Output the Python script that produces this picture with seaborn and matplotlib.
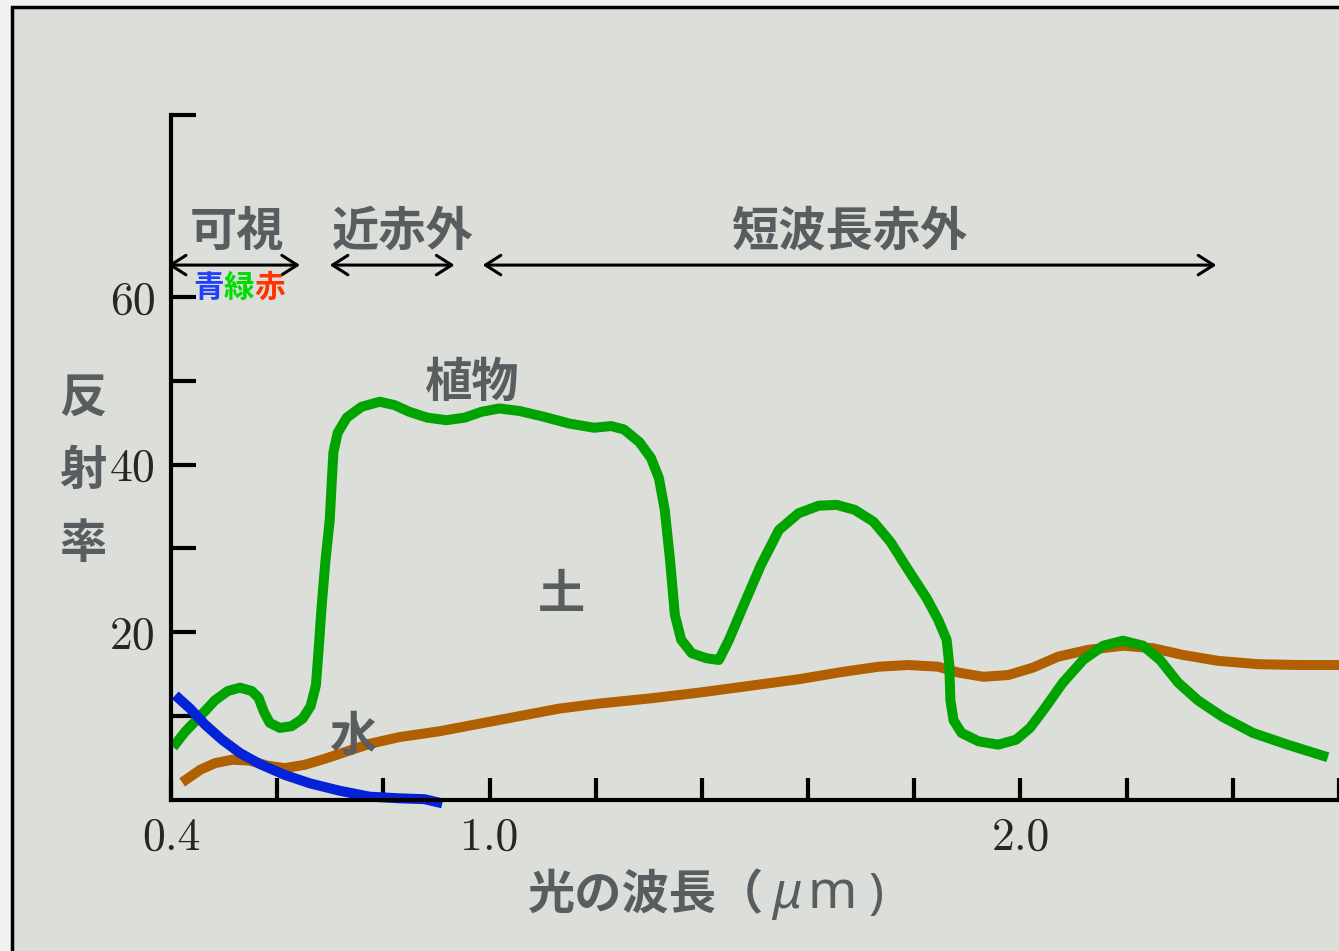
import numpy as np
import pandas as pd
import matplotlib.pyplot as plt
import seaborn as sns
from matplotlib.patches import Rectangle

# reflectance curves (wavelength in um, reflectance in %)
wl_plant = [0.404, 0.426, 0.455, 0.483, 0.507, 0.530, 0.552, 0.565, 0.575, 0.586,
            0.605, 0.627, 0.648, 0.663, 0.673, 0.678, 0.684, 0.691, 0.699, 0.703,
            0.706, 0.714, 0.731, 0.759, 0.793, 0.821, 0.849, 0.883, 0.919, 0.953,
            0.985, 1.018, 1.056, 1.103, 1.150, 1.197, 1.229, 1.253, 1.282, 1.304,
            1.319, 1.330, 1.340, 1.349, 1.361, 1.381, 1.409, 1.432, 1.451, 1.479,
            1.511, 1.545, 1.582, 1.620, 1.654, 1.688, 1.723, 1.755, 1.789, 1.823,
            1.845, 1.861, 1.866, 1.868, 1.874, 1.889, 1.921, 1.958, 1.992, 2.018,
            2.043, 2.080, 2.118, 2.156, 2.193, 2.231, 2.263, 2.297, 2.334, 2.381,
            2.438, 2.503, 2.579]
refl_plant = [6.3, 8.1, 10.0, 11.9, 13.0, 13.4, 13.0, 12.2, 10.5, 9.2,
              8.6, 8.8, 9.7, 11.2, 13.7, 17.9, 23.3, 28.6, 33.4, 38.2,
              41.5, 43.8, 45.6, 46.9, 47.5, 47.1, 46.3, 45.6, 45.3, 45.6,
              46.3, 46.7, 46.4, 45.7, 44.9, 44.4, 44.6, 44.2, 42.7, 40.8,
              38.4, 34.6, 28.6, 22.1, 19.1, 17.5, 16.9, 16.7, 19.1, 23.3,
              28.0, 32.2, 34.2, 35.1, 35.2, 34.6, 33.2, 30.8, 27.4, 24.1,
              21.5, 19.1, 16.1, 11.9, 9.5, 8.0, 7.0, 6.6, 7.2, 8.6,
              10.7, 14.0, 16.7, 18.4, 19.0, 18.4, 16.7, 14.0, 11.9, 9.9,
              8.0, 6.6, 5.1]

wl_soil = [0.421, 0.455, 0.483, 0.515, 0.548, 0.582, 0.614, 0.652, 0.689, 0.727,
           0.774, 0.830, 0.906, 0.981, 1.056, 1.131, 1.206, 1.300, 1.394, 1.488,
           1.582, 1.667, 1.733, 1.789, 1.845, 1.883, 1.930, 1.977, 2.024, 2.071,
           2.127, 2.193, 2.250, 2.306, 2.372, 2.447, 2.522, 2.600]
refl_soil = [2.1, 3.6, 4.4, 4.8, 4.7, 4.1, 3.8, 4.2, 4.9, 5.7,
             6.7, 7.5, 8.2, 9.1, 10.0, 10.9, 11.5, 12.1, 12.8, 13.6,
             14.4, 15.3, 15.9, 16.1, 15.9, 15.2, 14.7, 14.9, 15.8, 17.1,
             17.9, 18.4, 18.1, 17.3, 16.6, 16.2, 16.1, 16.1]

wl_water = [0.408, 0.436, 0.464, 0.496, 0.530, 0.567, 0.614, 0.661, 0.718, 0.774,
            0.830, 0.877, 0.911]
refl_water = [12.5, 10.9, 9.0, 7.2, 5.6, 4.3, 3.0, 2.0, 1.1, 0.4, 0.2, 0.1, -0.4]

xtick_values = [0.4, 0.6, 0.8, 1.0, 1.2, 1.4, 1.6, 1.8, 2.0, 2.2, 2.4, 2.6]
xtick_text = {0.4: "0.4", 1.0: "1.0", 2.0: "2.0"}
ytick_values = [10, 20, 30, 40, 50, 60]
ytick_text = {20: "20", 40: "40", 60: "60"}
y_top = 81.7

# bands: name, arrow start, arrow end, label centre
bands = [("可視", 0.394, 0.643, 0.525),
         ("近赤外", 0.699, 0.934, 0.837),
         ("短波長赤外", 0.987, 2.369, 1.678)]

bg = "#dcded9"
gray = "#5a5d60"

sns.set_theme(style="white")
plt.rcParams['font.family'] = ['Noto Sans CJK JP', 'DejaVu Sans']

fig = plt.figure(figsize=(13.39, 9.51), dpi=100, facecolor="#f1f1f1")
frame = Rectangle((12 / 1339, -0.02), 1.0, 1.02 - 7 / 951, transform=fig.transFigure,
                  facecolor=bg, edgecolor="black", lw=2.5, zorder=-10)
fig.add_artist(frame)

ax = fig.add_axes([171 / 1339, 151 / 951, 1168 / 1339, 685 / 951])
ax.set_facecolor(bg)

plant = pd.DataFrame({"wl": wl_plant, "r": refl_plant})
soil = pd.DataFrame({"wl": wl_soil, "r": refl_soil})
water = pd.DataFrame({"wl": wl_water, "r": refl_water})

lw = 7.2
sns.lineplot(data=soil, x="wl", y="r", ax=ax, color="#b06000", lw=lw, sort=False,
             estimator=None, solid_capstyle="butt", solid_joinstyle="round", clip_on=False)
sns.lineplot(data=plant, x="wl", y="r", ax=ax, color="#00a300", lw=lw, sort=False,
             estimator=None, solid_capstyle="butt", solid_joinstyle="round")
sns.lineplot(data=water, x="wl", y="r", ax=ax, color="#0422d8", lw=lw, sort=False,
             estimator=None, solid_capstyle="butt", solid_joinstyle="round", clip_on=False)

ax.set_xlim(0.4, 2.6)
ax.set_ylim(0, y_top)
ax.set_xlabel("")
ax.set_ylabel("")

for side in ["top", "right"]:
    ax.spines[side].set_visible(False)
for side in ["left", "bottom"]:
    ax.spines[side].set_color("black")
    ax.spines[side].set_linewidth(3)

ax.set_xticks(xtick_values)
ax.set_xticklabels([xtick_text.get(v, "") for v in xtick_values], fontfamily="cmr10", fontsize=33)
ax.set_yticks(ytick_values + [y_top])
ax.set_yticklabels([ytick_text.get(v, "") for v in ytick_values] + [""], fontfamily="cmr10", fontsize=33)
ax.tick_params(axis="x", bottom=True, direction="in", length=16, width=3, color="black", pad=12)
ax.tick_params(axis="y", left=True, direction="in", length=18, width=3, color="black", pad=11)

# band arrows and names
for name, x0, x1, xc in bands:
    ax.annotate("", xy=(x1, 63.8), xytext=(x0, 63.8), annotation_clip=False,
                arrowprops=dict(arrowstyle="<->,head_length=0.55,head_width=0.35", lw=2.2,
                                color="black", shrinkA=0, shrinkB=0, mutation_scale=20))
    ax.text(xc, 67.8, name, ha="center", va="center", fontsize=34,
            fontweight="bold", color=gray)

# 青緑赤
colors_rgb = [("青", "#2040ff"), ("緑", "#00dd00"), ("赤", "#ff3300")]
for i, (ch, c) in enumerate(colors_rgb):
    ax.text(0.441 + i * 0.058, 61.1, ch, ha="left", va="center", fontsize=22,
            fontweight="bold", color=c)

ax.text(0.968, 49.8, "植物", ha="center", va="center", fontsize=34, fontweight="bold", color=gray)
ax.text(1.136, 24.5, "土", ha="center", va="center", fontsize=34, fontweight="bold", color=gray)
ax.text(0.743, 7.5, "水", ha="center", va="center", fontsize=34, fontweight="bold", color=gray)

# axis titles
xl_y = 1 - 895 / 951
fig.text(528 / 1339, xl_y, "光の波長（", ha="left", va="center", fontsize=34,
         fontweight="bold", color=gray)
fig.text(772 / 1339, xl_y, "μ", ha="left", va="center", fontsize=36, style="italic",
         fontfamily="Noto Sans", color=gray)
fig.text(807 / 1339, xl_y, "m", ha="left", va="center", fontsize=38,
         fontfamily="Noto Sans", fontweight="bold", color=gray)
fig.text(869 / 1339, xl_y, ")", ha="left", va="center", fontsize=36,
         fontfamily="Noto Sans", fontweight="bold", color=gray)
for i, ch in enumerate("反射率"):
    fig.text(83 / 1339, 1 - (398 + i * 73) / 951, ch, ha="center", va="center", fontsize=34,
             fontweight="bold", color=gray)

fig.savefig("out.png", dpi=100, facecolor=fig.get_facecolor())
